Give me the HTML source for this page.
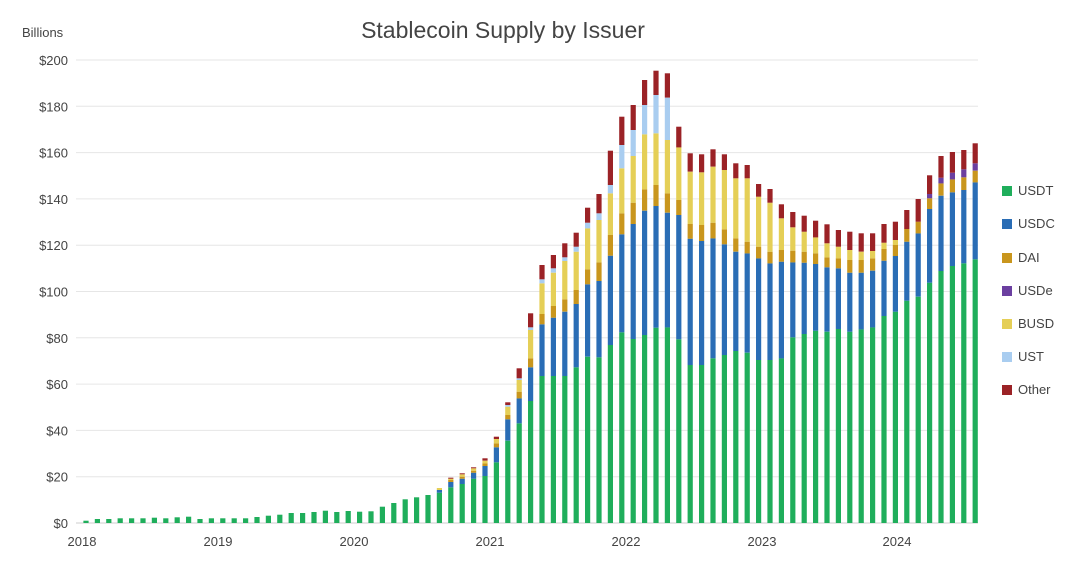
<!DOCTYPE html>
<html><head><meta charset="utf-8"><style>
body{margin:0;background:#fff;width:1080px;height:572px;overflow:hidden;font-family:"Liberation Sans",sans-serif}
svg text{font-family:"Liberation Sans",sans-serif}
</style></head><body>
<svg id="s" width="1080" height="572" xmlns="http://www.w3.org/2000/svg">
<rect width="1080" height="572" fill="#fff"/>
<text x="503" y="38" font-size="23" fill="#444" text-anchor="middle">Stablecoin Supply by Issuer</text>
<text x="22" y="37" font-size="13" fill="#444">Billions</text>
<g id="grid"></g><g id="bars"></g>
<g font-size="13" fill="#444">
<text x="82" y="546" text-anchor="middle">2018</text>
<text x="218" y="546" text-anchor="middle">2019</text>
<text x="354" y="546" text-anchor="middle">2020</text>
<text x="490" y="546" text-anchor="middle">2021</text>
<text x="626" y="546" text-anchor="middle">2022</text>
<text x="762" y="546" text-anchor="middle">2023</text>
<text x="897" y="546" text-anchor="middle">2024</text>
</g>
<g font-size="13" fill="#444">
<rect x="1002" y="186" width="10" height="10" fill="#1fae5b"/><text x="1018" y="195">USDT</text>
<rect x="1002" y="219" width="10" height="10" fill="#2a6db5"/><text x="1018" y="228">USDC</text>
<rect x="1002" y="253" width="10" height="10" fill="#c9961d"/><text x="1018" y="262">DAI</text>
<rect x="1002" y="286" width="10" height="10" fill="#6b3fa0"/><text x="1018" y="295">USDe</text>
<rect x="1002" y="319" width="10" height="10" fill="#e5cf57"/><text x="1018" y="328">BUSD</text>
<rect x="1002" y="352" width="10" height="10" fill="#a9cdf0"/><text x="1018" y="361">UST</text>
<rect x="1002" y="385" width="10" height="10" fill="#9b2226"/><text x="1018" y="394">Other</text>
</g>
</svg>
<script>
var ns="http://www.w3.org/2000/svg";
function el(t,a,p){var e=document.createElementNS(ns,t);for(var k in a)e.setAttribute(k,a[k]);if(p)p.appendChild(e);return e;}
var grid=document.getElementById('grid'),s=document.getElementById('s');
for(var i=0;i<=10;i++){var y=523-i*46.3;
 el('line',{x1:76,x2:978,y1:y,y2:y,stroke:i==0?'#ccc':'#e6e6e6','stroke-width':1},grid);
 var t=el('text',{x:68,y:y+5,'font-size':13,fill:'#444','text-anchor':'end'},grid);t.textContent='$'+(i*20);}
var C=['#1fae5b','#2a6db5','#c9961d','#6b3fa0','#e5cf57','#a9cdf0','#9b2226'];
// early bars: totals (all green) from zoom3 y
var early=[422,417,417,415,415,415,413,415,412,410,417,415,415,415,415,411,407,404,399,399,396,392,396,393,395,394,380,369,358,352,345];
var bars=[];
early.forEach(function(z){bars.push([[0,380+z/3]]);});
function Z3(a){return a.map(function(p){return [p[0],380+p[1]/3];});}
bars.push(Z3([[0,338],[1,330],[4,324]]));
bars.push(Z3([[0,322],[1,306],[2,300],[4,296],[6,293]]));
bars.push(Z3([[0,312],[1,296],[2,290],[4,283],[6,280]]));
bars.push(Z3([[0,296],[1,278],[2,272],[4,265],[6,262]]));
// zoom1 / zoom2 data: g,b,dai,busd,ust,other  (zoom y, offset 50)
var Z=[
[1278,1248,1240,1232,null,1225],
[1237,1192,1180,1167,null,1160],
[1172,1108,1095,1070,1065,1057],
[1120,1045,1025,990,985,955],
[1053,952,925,840,832,790],
[978,823,792,700,688,645],
[978,803,768,668,655,615],
[978,785,748,633,622,580],
[952,762,720,605,590,548],
[920,703,658,535,518,473],
[922,693,637,510,490,432],
[885,617,555,430,405,302],
[847,553,490,355,285,200],
[867,522,458,318,240,165],
[855,482,418,253,165,90],
[833,468,405,250,135,62],
[832,488,430,270,143,70],
[868,495,450,292,null,230],
[945,566,522,365,null,310],
[945,573,525,367,null,313],
[925,565,518,350,null,298],
[915,583,538,360,null,313],
[903,605,565,385,null,340],
[908,610,575,385,null,345],
[930,625,590,440,null,402],
[930,640,605,458,null,417],
[925,635,600,505,null,463],
[862,637,602,532,null,486],
[852,638,605,545,null,497],
[842,642,610,562,null,512],
[845,652,622,580,null,523],
[837,655,625,590,null,540],
[845,668,630,600,null,545],
[838,668,630,605,null,550],
[832,662,625,603,null,550],
[798,632,597,578,null,522],
[785,618,585,570,null,515],
[752,575,537,null,null,480],
[740,550,515,null,null,447]];
Z.forEach(function(r){var a=[[0,r[0]],[1,r[1]],[2,r[2]]];if(r[3])a.push([4,r[3]]);if(r[4])a.push([5,r[4]]);a.push([6,r[5]]);
 bars.push(a.map(function(p){return [p[0],50+p[1]/3];}));});
var U=[[698,477,445,432,376],[663,437,400,383,318],[648,427,388,368,306],[640,420,382,358,300],[628,397,362,340,280]];
U.forEach(function(r){bars.push([[0,50+r[0]/3],[1,50+r[1]/3],[2,50+r[2]/3],[3,50+r[3]/3],[6,50+r[4]/3]]);});
var g=document.getElementById('bars');
bars.forEach(function(b,i){var x=86+i*11.4-2.6,prev=523;
 b.forEach(function(p){var top=p[1];if(top<prev){el('rect',{x:x.toFixed(1),y:top.toFixed(1),width:5.2,height:(prev-top).toFixed(1),fill:C[p[0]]},g);prev=top;}});});
</script>
</body></html>
